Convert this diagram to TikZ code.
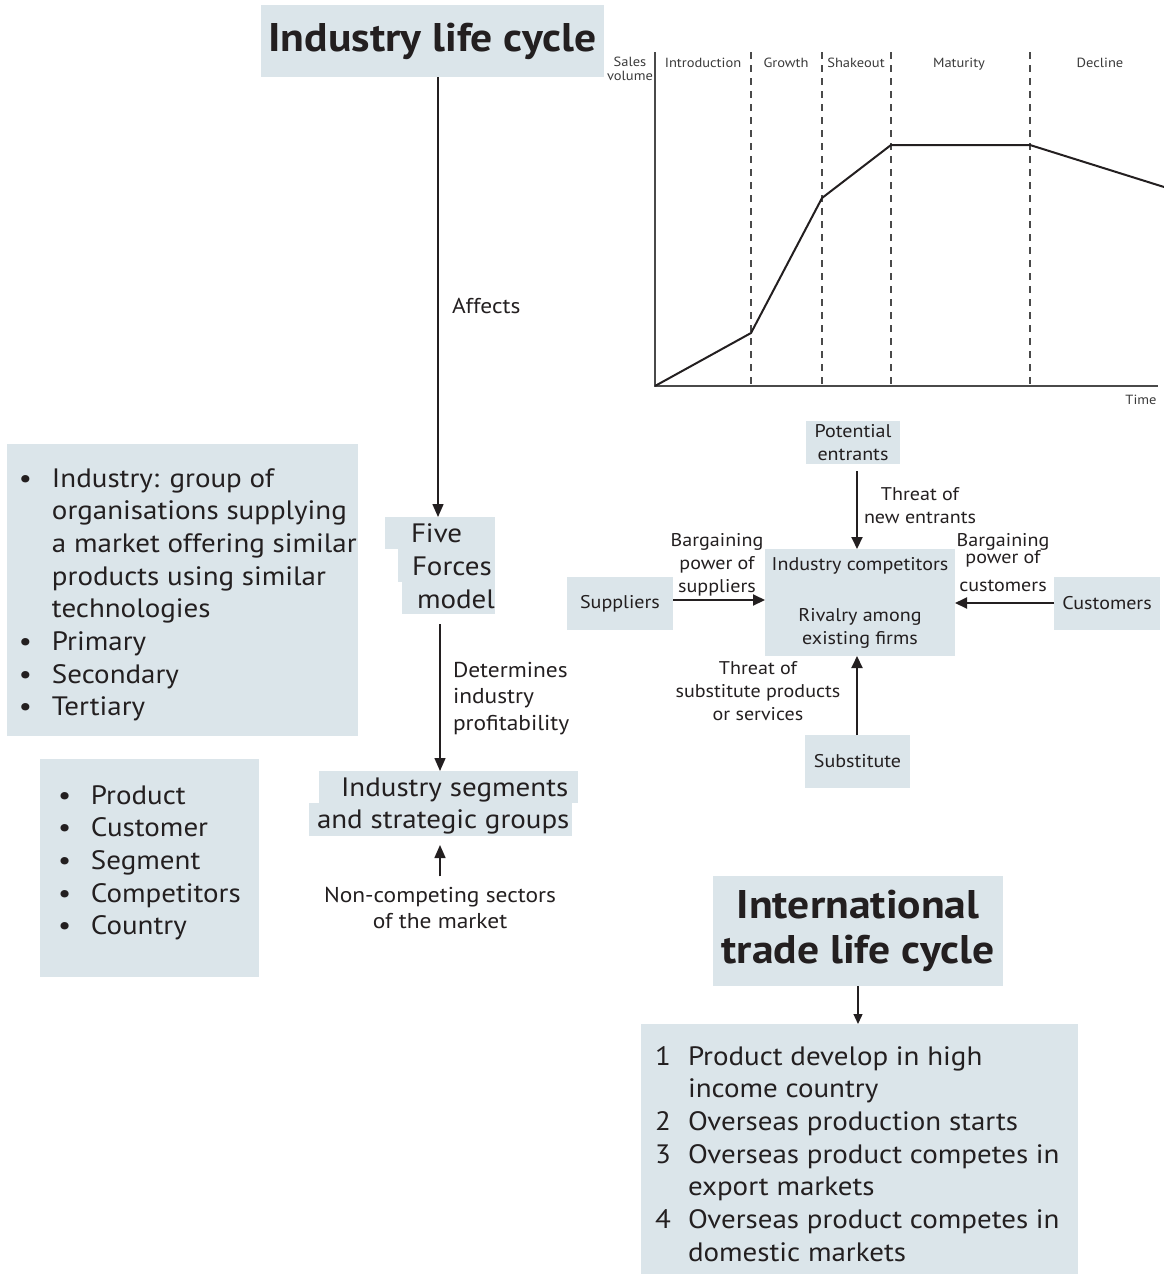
\documentclass[tikz,border=0pt]{standalone}
\usepackage{fontspec}
\setmainfont{PT Sans}[FakeStretch=1.09]
\usetikzlibrary{arrows.meta}

\definecolor{panelblue}{HTML}{DBE5EA}
\definecolor{ink}{HTML}{231F20}
\definecolor{axisgray}{HTML}{4A4A4A}
\definecolor{charttext}{HTML}{3A3A3A}

\newcommand{\txtbody}{\fontsize{26.6}{32.7}\selectfont}
\newcommand{\txtlabel}{\fontsize{21.5}{26.5}\selectfont}
\newcommand{\txtforce}{\fontsize{18.4}{23}\selectfont}
\newcommand{\txtchart}{\fontsize{13.3}{14}\selectfont}
\newcommand{\txttitle}{\bfseries\fontsize{40}{45}\selectfont}
\newcommand{\linesL}[1]{\begin{tabular}[t]{@{}l@{}}#1\end{tabular}}
\newcommand{\linesC}[1]{\begin{tabular}[t]{@{}c@{}}#1\end{tabular}}

\begin{document}
\begin{tikzpicture}[x=1pt,y=-1pt,
  panel/.style={fill=panelblue, draw=none, inner sep=0pt, outer sep=0pt, anchor=north west},
  txt/.style={inner sep=0pt, outer sep=0pt, text=ink},
  ctxt/.style={inner sep=0pt, outer sep=0pt, text=charttext, font=\txtchart, anchor=base},
  flow/.style={draw=ink, line width=1.5pt, -{Triangle[length=13pt,width=11pt]}},
  forceflow/.style={draw=ink, line width=2pt, -{Triangle[length=12pt,width=11pt]}},
  thinflow/.style={draw=ink, line width=1.3pt, -{Triangle[length=10pt,width=9pt]}},
  dashdiv/.style={draw=axisgray, line width=1.4pt, dash pattern=on 7pt off 6pt},
]
\useasboundingbox (0,0) rectangle (1164,1274);

% ---------- industry life cycle chain ----------
\node[panel, minimum width=343pt, minimum height=72pt, font=\txttitle, text=ink] (ilc) at (261,5) {Industry life cycle};

\node[panel, minimum width=110pt, minimum height=32pt] (fiveA) at (385,517) {};
\node[panel, minimum width=97pt, minimum height=33pt] (fiveB) at (398,549) {};
\node[panel, minimum width=93pt, minimum height=32pt] (fiveC) at (402,582) {};
\node[txt, anchor=base west, font=\txtbody] (fiveT1) at (411,542) {Five};
\node[txt, anchor=base west, font=\txtbody] (fiveT2) at (412,575) {Forces};
\node[txt, anchor=base west, font=\txtbody] (fiveT3) at (417,608) {model};

\coordinate (spine) at (438,0);
\coordinate (spineb) at (440,0);
\draw[flow] (ilc.south -| spine) -- (fiveA.north -| spine);
\node[txt, anchor=base west, font=\txtlabel] (affects) at (452,313) {Affects};

\node[panel, minimum width=259pt, minimum height=32pt] (segA) at (319,771) {};
\node[panel, minimum width=263pt, minimum height=33pt] (segB) at (309,803) {};
\node[txt, anchor=base west, font=\txtbody] (segT1) at (341,796) {Industry\hspace{0.3em}segments};
\node[txt, anchor=base west, font=\txtbody] (segT2) at (317,828) {and strategic groups};

\draw[flow, shorten <=10pt] (fiveC.south -| spineb) -- (segA.north -| spineb);
\node[txt, anchor=base west, font=\txtlabel] (determines) at (453,677)
  {\linesL{Determines\\industry\\profitability}};

\node[txt, anchor=base, font=\txtlabel] (noncomp) at (440,902)
  {\linesC{Non-competing sectors\\of the market}};
\draw[flow, shorten >=9pt] ([yshift=7pt]noncomp.north -| spineb) -- (segB.south -| spineb);

% ---------- definition lists ----------
\node[panel, minimum width=351pt, minimum height=292pt] (defbox) at (7,444) {};
\node[txt, anchor=base west, font=\txtbody] (deflist) at (19,487)
  {\begin{tabular}[t]{@{}l@{}l@{}}
   \makebox[33pt][l]{\textbullet} & Industry: group of\\
    & organisations supplying\\
    & a market offering similar\\
    & products using similar\\
    & technologies\\
   \textbullet & Primary\\
   \textbullet & Secondary\\
   \textbullet & Tertiary
   \end{tabular}};

\node[panel, minimum width=219pt, minimum height=218pt] (levelbox) at (40,759) {};
\node[txt, anchor=base west, font=\txtbody] (levellist) at (58,804)
  {\begin{tabular}[t]{@{}l@{}l@{}}
   \makebox[33pt][l]{\textbullet} & Product\\
   \textbullet & Customer\\
   \textbullet & Segment\\
   \textbullet & Competitors\\
   \textbullet & Country
   \end{tabular}};

% ---------- life cycle chart ----------
\coordinate (origin) at (655,386);
\coordinate (ytop) at (655,52);
\coordinate (xend) at (1158,386);
\foreach \xx in {751,822,891,1030}
  \draw[dashdiv] (\xx,52) -- (\xx,386);
\draw[axisgray, line width=2pt] (ytop) -- (origin) -- (xend);
\draw[ink, line width=2pt, line join=miter]
  (origin) -- (751,333) -- (822,198) -- (891,145) -- (1030,145) -- (1164,187);

\node[ctxt] (salesvol) at (630,66) {\linesC{Sales\\volume}};
\node[ctxt] (stIntro) at (703,67) {Introduction};
\node[ctxt] (stGrowth) at (786,67) {Growth};
\node[ctxt] (stShake) at (856,67) {Shakeout};
\node[ctxt] (stMature) at (959,67) {Maturity};
\node[ctxt] (stDecline) at (1100,67) {Decline};
\node[ctxt] (timelbl) at (1141,404) {Time};

% ---------- five forces ----------
\node[panel, minimum width=94pt, minimum height=43pt, font=\txtforce, align=center, text=ink] (entrants) at (806,421) {Potential\\entrants};
\node[panel, minimum width=190pt, minimum height=107pt, font=\txtforce, align=center, text=ink] (rival) at (765,549)
  {Industry competitors\\[28pt]Rivalry among\\existing firms};
\node[panel, minimum width=106pt, minimum height=53pt, font=\txtforce, text=ink] (suppliers) at (567,577) {Suppliers};
\node[panel, minimum width=106pt, minimum height=53pt, font=\txtforce, text=ink] (customers) at (1054,577) {Customers};
\node[panel, minimum width=105pt, minimum height=53pt, font=\txtforce, text=ink] (substitute) at (805,735) {Substitute};

\coordinate (fx) at (857,0);
\coordinate (sy) at (0,600);
\coordinate (cy) at (0,603);
\draw[forceflow, shorten <=7pt] (entrants.south -| fx) -- (rival.north -| fx);
\draw[forceflow] (suppliers.east |- sy) -- (rival.west |- sy);
\draw[forceflow] (customers.west |- cy) -- (rival.east |- cy);
\draw[forceflow] (substitute.north -| fx) -- (rival.south -| fx);

\node[txt, anchor=base, font=\txtforce] (newentr) at (920,500) {\linesC{Threat of\\new entrants}};
\node[txt, anchor=base, font=\txtforce] (bpsupp) at (717,546) {\linesC{Bargaining\\power of\\suppliers}};
\node[txt, anchor=base, font=\txtforce] (bpcust) at (1003,546) {\linesC{Bargaining\\[-6pt]power of\\[5pt]customers}};
\node[txt, anchor=base, font=\txtforce] (subthreat) at (758,674) {\linesC{Threat of\\substitute products\\or services}};

% ---------- international trade life cycle ----------
\node[panel, minimum width=290pt, minimum height=110pt, font=\txttitle, align=center, text=ink] (itlc) at (713,876) {International\\trade life cycle};
\node[panel, minimum width=437pt, minimum height=250pt] (stages) at (641,1024) {};
\coordinate (tx) at (858,0);
\draw[thinflow] (itlc.south -| tx) -- (stages.north -| tx);
\node[txt, anchor=base west, font=\txtbody] (stagelist) at (655,1065)
  {\begin{tabular}[t]{@{}l@{}l@{}}
   \makebox[33pt][l]{1} & Product develop in high\\
    & income country\\
   2 & Overseas production starts\\
   3 & Overseas product competes in\\
    & export markets\\
   4 & Overseas product competes in\\
    & domestic markets
   \end{tabular}};
\end{tikzpicture}
\end{document}
